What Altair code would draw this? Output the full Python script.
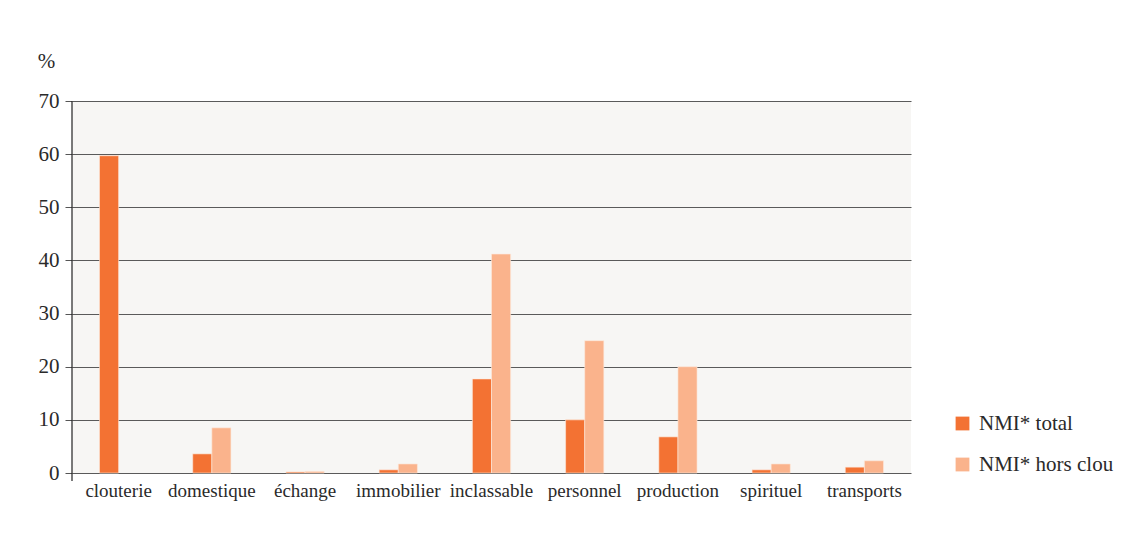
import altair as alt
import pandas as pd

categories = ["clouterie", "domestique", "échange", "immobilier", "inclassable",
              "personnel", "production", "spirituel", "transports"]
total = [59.7, 3.6, 0.2, 0.6, 17.7, 10.0, 6.8, 0.6, 1.1]
hors_clou = [0.0, 8.5, 0.3, 1.7, 41.2, 24.9, 20.0, 1.7, 2.3]
series = ["NMI* total", "NMI* hors clou"]
colors = ["#F37233", "#FAB38C"]

rows = []
for i, c in enumerate(categories):
    rows.append({"cat": c, "serie": series[0], "val": total[i]})
    rows.append({"cat": c, "serie": series[1], "val": hors_clou[i]})
df = pd.DataFrame(rows)

FONT = "Liberation Serif"

bars = alt.Chart(df).transform_filter("datum.val > 0").mark_bar(
    stroke="#fde9dc", strokeWidth=0.6).encode(
    x=alt.X("cat:N", sort=categories, title=None,
            scale=alt.Scale(domain=categories, paddingInner=0.59, paddingOuter=0.295),
            axis=alt.Axis(labelAngle=0, labelFontSize=19, labelFont=FONT,
                          labelColor="#2a2a2a", ticks=False, domain=False,
                          labelPadding=8, grid=False)),
    xOffset=alt.XOffset("serie:N", sort=series, scale=alt.Scale(domain=series)),
    y=alt.Y("val:Q", title="%",
            scale=alt.Scale(domain=[0, 70]),
            axis=alt.Axis(values=[0, 10, 20, 30, 40, 50, 60, 70], labelFontSize=21,
                          labelFont=FONT, labelColor="#2a2a2a", tickSize=7,
                          tickColor="#555", labelPadding=6, domain=False,
                          grid=True, gridColor="#5a5a5a", gridWidth=1.1,
                          titleAngle=0, titleFont=FONT, titleFontSize=21,
                          titleFontWeight="normal", titleColor="#2a2a2a",
                          titleX=-26, titleY=-30, titleAlign="center")),
    color=alt.Color("serie:N", sort=series,
                    scale=alt.Scale(domain=series, range=colors),
                    legend=alt.Legend(title=None, orient="none", legendX=880,
                                      legendY=312, symbolType="square",
                                      symbolSize=190, symbolStrokeWidth=0,
                                      labelFont=FONT, labelFontSize=21,
                                      labelColor="#2a2a2a", rowPadding=19,
                                      labelOffset=6, labelLimit=300)),
)

vline = alt.Chart(pd.DataFrame({"v": [0]})).mark_rule(color="#222", strokeWidth=1.2).encode(
    x=alt.value(0), y=alt.value(0), y2=alt.value(380)
)

chart = alt.layer(bars, vline).properties(
    width=839, height=372,
    autosize=alt.AutoSizeParams(type="none"),
    padding={"left": 64, "top": 93, "right": 212, "bottom": 54},
    background="white",
).configure(font=FONT).configure_view(fill="#F7F6F4", stroke=None)

chart.save("out.html", embed_options={"renderer": "svg", "actions": False})
